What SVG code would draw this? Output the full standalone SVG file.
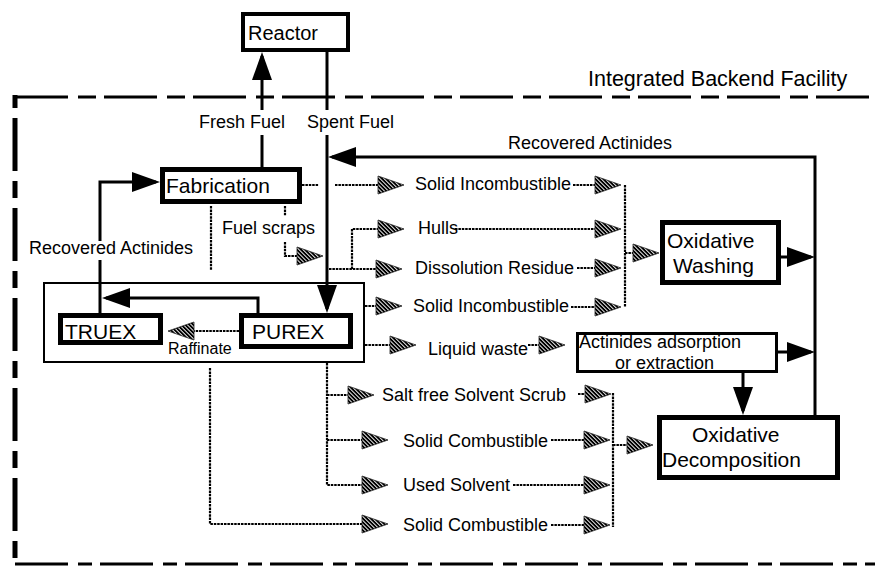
<svg xmlns="http://www.w3.org/2000/svg" width="875" height="572" viewBox="0 0 875 572">
<style>
text{font-family:"Liberation Sans",Arial,Helvetica,sans-serif;fill:#000}
.t{font-size:21px}
.l{font-size:18px}
.box{fill:#fff;stroke:#000}
.solid{fill:none;stroke:#000;stroke-width:3}
.wavy{fill:none;stroke:#000;stroke-width:2.2;stroke-dasharray:2.5 0.9}
.bd{fill:none;stroke:#000}
</style>
<defs>
<pattern id="hatch" width="2.8" height="10" patternUnits="userSpaceOnUse" patternTransform="rotate(-45)">
<rect x="0" y="0" width="1.9" height="10" fill="#000"/>
</pattern>
<marker id="arr" markerUnits="userSpaceOnUse" markerWidth="30" markerHeight="22" refX="24" refY="10" orient="auto" overflow="visible">
<path d="M0,0 L28,10 L0,20 z" fill="#000"/>
</marker>
<marker id="harr" markerUnits="userSpaceOnUse" markerWidth="28" markerHeight="20" refX="0" refY="9" orient="auto" overflow="visible">
<path d="M0,0 L26,9 L0,18 z" fill="url(#hatch)" stroke="#222" stroke-width="0.8"/>
</marker>
</defs>
<rect width="875" height="572" fill="#fff"/>

<g id="boundary">
<path class="bd" d="M15,97 H875" stroke-width="3" stroke-dasharray="53 10 18 8"/>
<path class="bd" d="M15,95 V564" stroke-width="5" stroke-dasharray="17 10 53 10" stroke-dashoffset="4"/>
<path class="bd" d="M15,564 H875" stroke-width="3" stroke-dasharray="53 10 14 8"/>
<text class="l" x="588" y="86" style="font-size:21.5px">Integrated Backend Facility</text>
</g>

<g id="node-reactor">
<rect class="box" x="243" y="14" width="105" height="36" stroke-width="4"/>
<text x="248" y="40" style="font-size:20px">Reactor</text>
</g>

<g id="node-fabrication">
<rect class="box" x="162.5" y="169.5" width="137" height="32" stroke-width="5"/>
<text class="t" x="166" y="193">Fabrication</text>
</g>

<g id="node-reprocessing">
<rect class="box" x="44" y="283" width="320" height="79" stroke-width="2"/>
</g>

<g id="node-truex">
<rect class="box" x="60.5" y="315.5" width="100" height="27" stroke-width="5"/>
<text class="t" x="65" y="339">TRUEX</text>
</g>

<g id="node-purex">
<rect class="box" x="241.5" y="315.5" width="109" height="31" stroke-width="5"/>
<text class="t" x="252" y="339">PUREX</text>
</g>

<g id="node-washing">
<rect class="box" x="662.5" y="222.5" width="116" height="60" stroke-width="5"/>
<text class="t" x="667" y="248">Oxidative</text>
<text class="t" x="673" y="273">Washing</text>
</g>

<g id="node-actinides">
<rect class="box" x="577.5" y="333.5" width="199" height="38" stroke-width="3"/>
<text class="l" x="579" y="348">Actinides adsorption</text>
<text class="l" x="615" y="369">or extraction</text>
</g>

<g id="node-decomposition">
<rect class="box" x="659.5" y="417.5" width="178" height="60" stroke-width="5"/>
<text class="t" x="692" y="442">Oxidative</text>
<text class="t" x="662" y="467">Decomposition</text>
</g>

<g id="connectors">
<path class="solid" d="M262,167 V135"/>
<path class="solid" d="M262,110 V56" marker-end="url(#arr)"/>
<path class="solid" d="M327,52 V110"/>
<path class="solid" d="M327,135 V309" marker-end="url(#arr)"/>
<path class="solid" d="M815,415 V157 H332" marker-end="url(#arr)"/>
<path class="solid" d="M781,257 H811" marker-end="url(#arr)"/>
<path class="solid" d="M778,352 H811" marker-end="url(#arr)"/>
<path class="solid" d="M743,373 V411" marker-end="url(#arr)"/>
<path class="solid" d="M258,313 V298 H106" marker-end="url(#arr)"/>
<path class="solid" d="M100,313 V260"/>
<path class="solid" d="M100,241 V182 H156" marker-end="url(#arr)"/>

<path class="wavy" d="M302,185 H319"/>
<path class="wavy" d="M335,185 H378" marker-end="url(#harr)"/>
<path class="wavy" d="M573,185 H595" marker-end="url(#harr)"/>
<path class="wavy" d="M352,269 V229 H378" marker-end="url(#harr)"/>
<path class="wavy" d="M455,229 H595" marker-end="url(#harr)"/>
<path class="wavy" d="M329,269 H376" marker-end="url(#harr)"/>
<path class="wavy" d="M577,268 H595" marker-end="url(#harr)"/>
<path class="wavy" d="M365,306 H376" marker-end="url(#harr)"/>
<path class="wavy" d="M571,307 H595" marker-end="url(#harr)"/>
<path class="wavy" d="M625,185 V307"/>
<path class="wavy" d="M625,253 H633" marker-end="url(#harr)"/>
<path class="wavy" d="M285,206 V216"/>
<path class="wavy" d="M285,242 V256 H297" marker-end="url(#harr)"/>
<path class="wavy" d="M211,206 V270"/>
<path class="wavy" d="M239,331 H194" marker-end="url(#harr)"/>
<path class="wavy" d="M365,345 H390" marker-end="url(#harr)"/>
<path class="wavy" d="M528,345 H539" marker-end="url(#harr)"/>
<path class="wavy" d="M327,363 V485 H362" marker-end="url(#harr)"/>
<path class="wavy" d="M327,395 H348" marker-end="url(#harr)"/>
<path class="wavy" d="M327,440 H362" marker-end="url(#harr)"/>
<path class="wavy" d="M578,394 H585" marker-end="url(#harr)"/>
<path class="wavy" d="M551,440 H584" marker-end="url(#harr)"/>
<path class="wavy" d="M513,485 H584" marker-end="url(#harr)"/>
<path class="wavy" d="M210,368 V524 H362" marker-end="url(#harr)"/>
<path class="wavy" d="M551,525 H584" marker-end="url(#harr)"/>
<path class="wavy" d="M613,393 V527"/>
<path class="wavy" d="M613,445 H627" marker-end="url(#harr)"/>
</g>

<g id="labels">
<text class="l" x="199" y="128">Fresh Fuel</text>
<text class="l" x="307" y="128">Spent Fuel</text>
<text class="l" x="508" y="149">Recovered Actinides</text>
<text class="l" x="29" y="254">Recovered Actinides</text>
<text class="l" x="222" y="234">Fuel scraps</text>
<text x="168" y="354" style="font-size:16px">Raffinate</text>
<text class="l" x="415" y="190">Solid Incombustible</text>
<text class="l" x="418" y="234">Hulls</text>
<text class="l" x="415" y="274">Dissolution Residue</text>
<text class="l" x="413" y="312">Solid Incombustible</text>
<text class="l" x="428" y="355">Liquid waste</text>
<text class="l" x="382" y="401">Salt free Solvent Scrub</text>
<text class="l" x="403" y="447">Solid Combustible</text>
<text class="l" x="403" y="491">Used Solvent</text>
<text class="l" x="403" y="531">Solid Combustible</text>
</g>
</svg>
